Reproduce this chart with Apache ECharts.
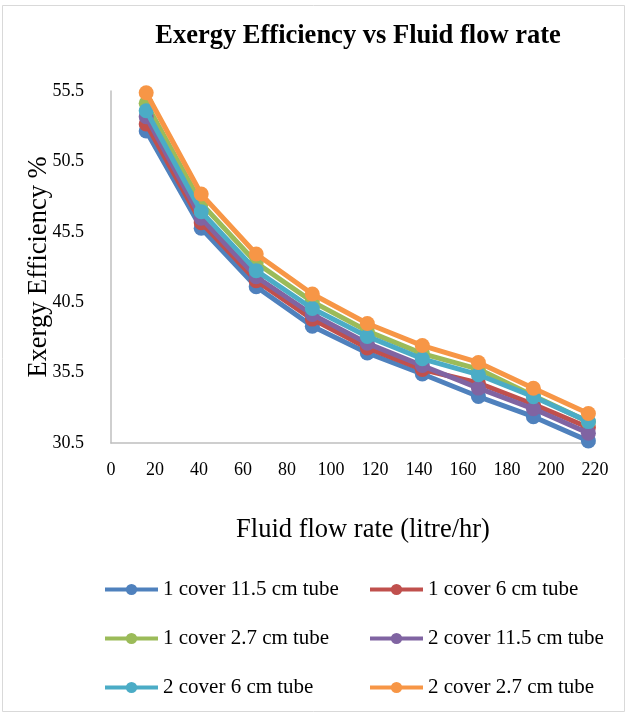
<!DOCTYPE html>
<html>
<head>
<meta charset="utf-8">
<script src="https://cdn.jsdelivr.net/npm/echarts@6/dist/echarts.min.js"></script>
<style>
  html, body { margin: 0; padding: 0; background: #fff; }
  #chart { width: 629px; height: 715px; }
</style>
</head>
<body>
<div id="chart"></div>
<script>
// Fluid flow rate (litre/hr)
const flowRate = [16, 41, 66, 91.5, 116.5, 141.5, 167, 192, 217];

// Exergy efficiency (%) for each collector configuration
const cover1Tube115 = [52.66, 45.75, 41.6, 38.8, 36.9, 35.4, 33.8, 32.37, 30.65];
const cover1Tube6   = [53.16, 46.15, 42.03, 39.3, 37.25, 35.72, 34.76, 33.25, 31.6];
const cover1Tube27  = [54.63, 47.52, 43.3, 40.54, 38.45, 36.85, 35.75, 33.85, 32.0];
const cover2Tube115 = [53.67, 46.46, 42.31, 39.63, 37.58, 36.0, 34.4, 32.93, 31.2];
const cover2Tube6   = [54.1, 46.93, 42.74, 40.05, 38.07, 36.48, 35.35, 33.79, 32.02];
const cover2Tube27  = [55.38, 48.18, 43.92, 41.08, 38.99, 37.42, 36.22, 34.39, 32.6];

const seriesNames = [
  '1 cover 11.5 cm tube', '1 cover 6 cm tube', '1 cover 2.7 cm tube',
  '2 cover 11.5 cm tube', '2 cover 6 cm tube', '2 cover 2.7 cm tube'
];
const seriesValues = [cover1Tube115, cover1Tube6, cover1Tube27, cover2Tube115, cover2Tube6, cover2Tube27];
const seriesColors = ['#4F81BD', '#C0504D', '#9BBB59', '#8064A2', '#4BACC6', '#F79646'];

const FONT = '"Liberation Serif", "Times New Roman", serif';

const chart = echarts.init(document.getElementById('chart'));

const series = seriesNames.map((name, i) => ({
  name: name,
  type: 'line',
  data: flowRate.map((x, j) => [x, seriesValues[i][j]]),
  symbol: 'circle',
  symbolSize: 15,
  showSymbol: true,
  color: seriesColors[i],
  lineStyle: { width: 5, color: seriesColors[i] },
  itemStyle: { color: seriesColors[i] },
  z: 2 + i
}));

const legendCommon = {
  orient: 'vertical',
  padding: 0,
  itemWidth: 53,
  itemHeight: 14,
  itemGap: 28,
  lineStyle: { width: 4 },
  textStyle: { fontFamily: FONT, fontSize: 21, color: '#000' }
};

chart.setOption({
  animation: false,
  backgroundColor: '#fff',
  title: {
    text: 'Exergy Efficiency vs Fluid flow rate',
    left: 353,
    top: 18,
    textAlign: 'center',
    textStyle: { fontFamily: FONT, fontSize: 26.5, fontWeight: 'bold', color: '#000' }
  },
  graphic: [{
    type: 'rect',
    shape: { x: 2.5, y: 5.5, width: 622, height: 706 },
    style: { fill: 'none', stroke: '#d9d9d9', lineWidth: 1 },
    silent: true
  }],
  legend: [
    Object.assign({ left: 103, top: 579, data: [seriesNames[0], seriesNames[2], seriesNames[4]] }, legendCommon),
    Object.assign({ left: 368, top: 579, data: [seriesNames[1], seriesNames[3], seriesNames[5]] }, legendCommon)
  ],
  grid: { left: 111, right: 34, top: 91, bottom: 272, containLabel: false },
  xAxis: {
    type: 'value',
    min: 0,
    max: 220,
    interval: 20,
    name: 'Fluid flow rate (litre/hr)',
    nameLocation: 'middle',
    nameGap: 74,
    nameMoveOverlap: false,
    nameTextStyle: { fontFamily: FONT, fontSize: 26.5, color: '#000', padding: [0, 0, 0, 20] },
    axisLine: { show: true, lineStyle: { color: '#bfbfbf', width: 1.5 } },
    axisTick: { show: false },
    splitLine: { show: false },
    axisLabel: { fontFamily: FONT, fontSize: 18, color: '#000', margin: 18 }
  },
  yAxis: {
    type: 'value',
    min: 30.5,
    max: 55.5,
    interval: 5,
    name: 'Exergy Efficiency %',
    nameLocation: 'middle',
    nameGap: 58,
    nameMoveOverlap: false,
    nameTextStyle: { fontFamily: FONT, fontSize: 26.5, color: '#000' },
    axisLine: { show: true, lineStyle: { color: '#bfbfbf', width: 1.5 } },
    axisTick: { show: false },
    splitLine: { show: false },
    axisLabel: { fontFamily: FONT, fontSize: 18, color: '#000', margin: 27, formatter: v => v.toFixed(1) }
  },
  series: series
});
</script>
</body>
</html>
